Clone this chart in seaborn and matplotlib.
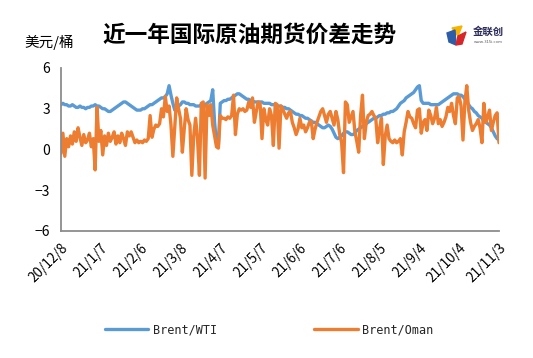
import numpy as np
import pandas as pd
import matplotlib
matplotlib.use("Agg")
import matplotlib.pyplot as plt
import seaborn as sns
from matplotlib.lines import Line2D
from matplotlib.patches import Polygon

sns.set_style("white")
plt.rcParams['font.family'] = ['Noto Sans CJK SC', 'DejaVu Sans']
plt.rcParams['axes.unicode_minus'] = True

date_labels = ["20/12/8", "21/1/7", "21/2/6", "21/3/8", "21/4/7", "21/5/7",
               "21/6/6", "21/7/6", "21/8/5", "21/9/4", "21/10/4", "21/11/3"]

brent_wti = [
    3.3, 3.4, 3.3, 3.3, 3.2, 3.2, 3.3, 3.2, 3.1, 3.1, 3.2, 3.1, 3.1, 3.0, 3.1, 3.1, 3.2, 3.2, 3.3, 3.2, 3.2,
    3.1, 3.0, 3.0, 2.9, 2.8, 2.8, 2.9, 3.0, 3.1, 3.2, 3.3, 3.4, 3.5, 3.5, 3.4, 3.3, 3.2, 3.1, 3.0, 2.9, 2.9,
    2.9, 3.0, 3.0, 3.1, 3.2, 3.3, 3.3, 3.4, 3.5, 3.6, 3.7, 3.8, 3.8, 3.9, 4.1, 4.7, 4.0, 3.4, 2.9, 3.0, 3.2,
    3.3, 3.5, 3.5, 3.4, 3.4, 3.3, 3.3, 3.3, 3.2, 3.2, 3.2, 3.3, 3.2, 3.3, 3.4, 3.5, 3.6, 4.4, 2.0, 0.5, 0.3,
    3.4, 3.5, 3.6, 3.6, 3.7, 3.7, 3.8, 3.9, 4.0, 4.1, 4.1, 4.0, 3.9, 3.8, 3.7, 3.7, 3.6, 3.6, 3.5, 3.5, 3.5,
    3.5, 3.5, 3.4, 3.4, 3.4, 3.4, 3.3, 3.3, 3.3, 3.2, 3.2, 3.2, 3.1, 3.1, 3.0, 3.0, 2.9, 2.8, 2.7, 2.6, 2.6,
    2.5, 2.5, 2.4, 2.3, 2.3, 2.2, 2.1, 2.0, 2.0, 1.9, 1.8, 1.7, 1.6, 1.6, 1.7, 1.8, 1.7, 1.5, 1.2, 0.9, 0.8,
    0.9, 1.0, 1.2, 1.3, 1.3, 1.2, 1.1, 1.1, 1.2, 1.4, 1.5, 1.6, 1.7, 1.8, 1.9, 2.0, 2.1, 2.2, 2.3, 2.3, 2.4,
    2.5, 2.5, 2.6, 2.6, 2.7, 2.7, 2.8, 2.8, 2.9, 3.0, 3.2, 3.4, 3.5, 3.6, 3.8, 3.9, 4.0, 4.1, 4.2, 4.4, 4.6,
    4.7, 3.6, 3.4, 3.4, 3.4, 3.4, 3.3, 3.3, 3.3, 3.3, 3.3, 3.4, 3.5, 3.6, 3.7, 3.8, 3.9, 4.0, 4.1, 4.1, 4.1,
    4.0, 4.0, 3.9, 3.7, 3.5, 3.3, 3.1, 3.0, 2.8, 2.7, 2.5, 2.4, 2.3, 2.1, 2.0, 1.9, 1.8, 1.6, 1.3, 1.0, 0.8, 0.7,
]

brent_oman = [
    -0.3, 1.2, -0.5, 0.8, 0.2, 1.0, 0.4, 1.3, 0.6, 1.6, 0.9, 0.3, 1.1, 0.5, 0.7, 1.2, 0.2, 0.8, -1.5, 3.1, 0.6,
    1.4, -0.4, 1.0, 0.3, 1.2, 0.6, 0.9, 1.3, 0.4, 1.0, 0.5, 1.2, 0.8, 0.3, 1.3, 1.0, 1.3, 0.9, 0.5, 0.7, 0.5,
    0.6, 0.5, 0.7, 0.6, 0.8, 2.5, 0.9, 1.5, 1.8, 1.7, 1.9, 3.0, 2.4, 3.9, 2.8, 3.2, 1.8, -0.5, 1.6, 3.8, 3.0,
    2.3, -0.2, 1.5, 3.0, 2.2, 1.8, -1.9, 1.0, 2.3, 0.8, -1.9, 3.4, 3.5, -2.1, 3.3, 2.5, 3.3, 1.8, 1.0, 0.2, 0.1,
    2.5, 2.3, 2.3, 2.2, 2.4, 2.3, 2.5, 4.0, 1.1, 2.6, 3.0, 2.9, 3.0, 2.8, 2.9, 3.5, 3.1, 3.8, 2.0, 2.8, 3.5,
    3.4, 0.8, 3.0, 2.2, 1.8, 3.0, 2.5, 0.3, 3.4, 3.3, 0.1, 3.2, 3.0, 2.6, 2.3, 2.7, 2.8, 2.0, 1.6, 1.1, 1.5,
    2.3, 1.6, 1.8, 1.3, 1.6, 2.0, 2.1, 0.8, 1.5, 2.0, 2.4, 2.8, 3.0, 2.5, 2.0, 2.6, 2.8, 2.3, 1.8, 2.8, 2.2,
    1.1, 0.5, -1.7, 3.5, 3.3, 2.0, 2.4, 2.8, 1.3, 0.6, -0.2, 2.5, 4.0, 0.8, 2.0, 2.5, 2.6, 2.8, 2.5, 2.3, 0.5,
    1.5, 2.3, -1.1, 1.0, 1.8, 0.8, 0.6, 0.5, 0.7, 0.5, 0.6, 0.8, -0.4, 1.3, 2.0, 2.8, 2.4, 2.3, 1.9, 1.6, 2.9,
    3.0, 1.2, 2.0, 2.2, 1.4, 2.9, 2.5, 1.9, 2.3, 3.1, 1.9, 2.2, 1.7, 2.0, 2.4, 3.1, 2.8, 3.4, 2.5, 1.9, 3.8,
    3.9, 3.2, 0.7, 3.5, 4.7, 2.9, 2.0, 1.4, 1.7, 1.9, 2.2, 1.6, 0.5, 3.4, 2.0, 2.4, 2.9, 1.4, 2.0, 2.5, 2.7, 0.5,
]

series_names = ["Brent/WTI", "Brent/Oman"]
colors = ["#5B9BD5", "#ED7D31"]

n = len(brent_wti)
df = pd.DataFrame({
    "idx": list(range(n)) * 2,
    "value": brent_wti + brent_oman,
    "series": [series_names[0]] * n + [series_names[1]] * n,
})

W, H = 533, 358
fig = plt.figure(figsize=(W / 100, H / 100), dpi=100)
ax = fig.add_axes([61 / W, 1 - 231 / H, 438 / W, 163 / H])

sns.lineplot(data=df, x="idx", y="value", hue="series", hue_order=series_names,
             palette=colors, linewidth=2.4, ax=ax, legend=False)

ax.set_xlim(0, n - 1)
ax.set_ylim(-6, 6)
ax.set_xlabel("")
ax.set_ylabel("")
ax.set_yticks([-6, -3, 0, 3, 6])
ax.set_yticklabels(["\u22126", "\u22123", "0", "3", "6"], fontsize=10)
ax.set_xticks(list(range(0, n, 21)))
ax.set_xticklabels(date_labels, rotation=45, ha="right", va="top",
                   rotation_mode="anchor", fontsize=9.8)
for s in ["top", "right"]:
    ax.spines[s].set_visible(False)
for s in ["left", "bottom"]:
    ax.spines[s].set_color("#8c8c8c")
    ax.spines[s].set_linewidth(1.3)
ax.tick_params(axis="both", direction="in", length=4, width=1, color="#8c8c8c",
               labelcolor="#000000")
ax.tick_params(axis="x", pad=7)
ax.tick_params(axis="y", pad=8)
ax.grid(False)

fig.text(250 / W, 1 - 35 / H, "近一年国际原油期货价差走势", ha="center", va="center",
         fontsize=16.3, fontweight="bold", color="#000000")
fig.text(24 / W, 1 - 42 / H, "美元/桶", ha="left", va="center", fontsize=10.5, color="#000000")

# logo
def px(x, y):
    return (x / W, 1 - y / H)
fig.patches.append(Polygon([px(452, 28), px(462, 26), px(458, 36)], closed=True,
                           transform=fig.transFigure, color="#F5B400", figure=fig))
fig.patches.append(Polygon([px(447, 33), px(455, 30), px(456, 45), px(449, 42)], closed=True,
                           transform=fig.transFigure, color="#2E5DA8", figure=fig))
fig.patches.append(Polygon([px(458, 36), px(466, 32), px(462, 44), px(456, 45)], closed=True,
                           transform=fig.transFigure, color="#D7262B", figure=fig))
fig.text(488 / W, 1 - 32 / H, "金联创", ha="center", va="center", fontsize=7.5,
         fontweight="bold", color="#2b2b5a")
fig.text(488 / W, 1 - 42 / H, "www.315i.com", ha="center", va="center", fontsize=3,
         color="#555555")

handles = [Line2D([0], [0], color=c, lw=2.4) for c in colors]
fig.legend(handles, series_names, loc="center", bbox_to_anchor=(0.505, 1 - 330 / H),
           ncol=2, frameon=False, handlelength=3.7, handletextpad=0.4,
           columnspacing=8.2, prop={"family": "DejaVu Sans Mono", "size": 8.5})

fig.savefig("out.png", dpi=100)
